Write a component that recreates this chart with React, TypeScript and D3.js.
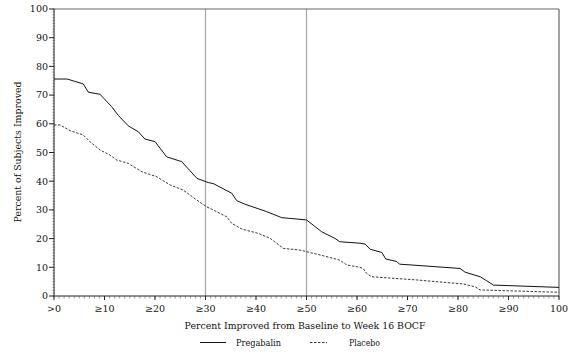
import React from "react";
import * as d3 from "d3";

const xTickValues = [0, 10, 20, 30, 40, 50, 60, 70, 80, 90, 100];
const xTickLabels = [">0", "≥10", "≥20", "≥30", "≥40", "≥50", "≥60", "≥70", "≥80", "≥90", "100"];
const yTickValues = [0, 10, 20, 30, 40, 50, 60, 70, 80, 90, 100];
const referenceLines = [30, 50];

const pregabalin: [number, number][] = [
  [0, 75.6], [2.6, 75.6], [5.8, 73.9], [6.8, 71], [9.1, 70.3], [11.4, 66], [12.7, 63],
  [14.7, 59.3], [16.7, 57.2], [18, 54.7], [20, 53.8], [22.3, 48.5], [25.3, 46.8],
  [28.3, 41], [30.6, 39.5], [31.5, 39.2], [35.2, 35.8], [36.2, 33.2], [37.8, 32],
  [42.1, 29.4], [45.1, 27.3], [50, 26.5], [53, 22.4], [55.6, 20.1], [56.6, 18.9],
  [60.6, 18.4], [61.6, 18.1], [62.6, 16.3], [64.9, 15.2], [65.7, 12.9], [67.9, 12],
  [68.4, 11.1], [80.4, 9.6], [81.4, 8.3], [84.4, 6.7], [85.7, 5.3], [87, 3.8], [100, 3.0],
];

const placebo: [number, number][] = [
  [0, 59.6], [1.2, 59.6], [3.2, 57.6], [5.8, 56.1], [7.1, 53.8], [9.1, 50.9], [11.1, 49.1],
  [12.4, 47.4], [14.7, 46.2], [17.4, 43.3], [20.3, 41.6], [23, 38.7], [25.6, 36.9],
  [28.3, 33.4], [30.2, 31.1], [31.5, 30], [34.2, 27.6], [35.2, 25.3], [37.2, 23.3],
  [40.5, 21.8], [42.8, 20.1], [45.4, 16.6], [48.7, 16], [52.7, 14.3], [56.6, 12.5],
  [58, 10.8], [60.6, 10], [61.2, 9.6], [61.9, 7.9], [62.9, 6.7], [71.8, 5.6], [81, 4.2],
  [83.4, 3.2], [84.4, 2.1], [100, 1.3],
];

const W = 586;
const H = 359;
const L = 54, R = 559, T = 9, B = 296;
const FONT = "'DejaVu Serif', serif";

export default function App() {
  const x = d3.scaleLinear().domain([0, 100]).range([L, R]);
  const y = d3.scaleLinear().domain([0, 100]).range([B, T]);
  const line = d3.line<[number, number]>().x((d) => x(d[0])).y((d) => y(d[1]));
  const minor = d3.range(0, 101, 1);

  return (
    <svg width={W} height={H} style={{ position: "absolute", left: 0, top: 0, background: "#fff" }}>
      {referenceLines.map((v) => (
        <line key={v} x1={x(v)} x2={x(v)} y1={T} y2={B} stroke="#aaa" strokeWidth={1.3} />
      ))}
      <line x1={L} x2={R} y1={T} y2={T} stroke="#666" strokeWidth={1.2} />
      <line x1={R} x2={R} y1={T} y2={B} stroke="#666" strokeWidth={1.2} />
      <line x1={L} x2={L} y1={T} y2={B} stroke="#222" strokeWidth={1} />
      <line x1={L} x2={R} y1={B} y2={B} stroke="#222" strokeWidth={1} />
      {minor.map((v) => (
        <line key={"ym" + v} x1={L - 1.5} x2={L + 1} y1={y(v)} y2={y(v)} stroke="#555" strokeWidth={0.6} />
      ))}
      {yTickValues.map((v) => (
        <g key={"y" + v}>
          <line x1={L - 5} x2={L} y1={y(v)} y2={y(v)} stroke="#222" strokeWidth={1} />
          <text x={L - 6} y={y(v) + 3.3} textAnchor="end" fontSize={9.5} fontFamily={FONT} fill="#111">
            {v}
          </text>
        </g>
      ))}
      {minor.map((v) => (
        <line key={"xm" + v} x1={x(v)} x2={x(v)} y1={B} y2={B + 2.5} stroke="#555" strokeWidth={0.6} />
      ))}
      {xTickValues.map((v, i) => (
        <g key={"x" + v}>
          <line x1={x(v)} x2={x(v)} y1={B} y2={B + 4} stroke="#222" strokeWidth={1} />
          <text x={x(v)} y={B + 16} textAnchor="middle" fontSize={9.5} fontFamily={FONT} fill="#111">
            {xTickLabels[i]}
          </text>
        </g>
      ))}
      <path d={line(pregabalin) ?? ""} fill="none" stroke="#111" strokeWidth={1} />
      <path d={line(placebo) ?? ""} fill="none" stroke="#222" strokeWidth={0.9} strokeDasharray="2.5,1.5" />
      <text x={305} y={329} textAnchor="middle" fontSize={9.5} fontFamily={FONT} fill="#111"
        textLength={241} lengthAdjust="spacingAndGlyphs">
        Percent Improved from Baseline to Week 16 BOCF
      </text>
      <text transform="translate(21,152) rotate(-90)" textAnchor="middle" fontSize={9.5} fontFamily={FONT}
        fill="#111" textLength={141} lengthAdjust="spacingAndGlyphs">
        Percent of Subjects Improved
      </text>
      <line x1={200} x2={226} y1={342.5} y2={342.5} stroke="#111" strokeWidth={1} />
      <text x={236} y={346} fontSize={8.5} fontFamily={FONT} fill="#111" textLength={45} lengthAdjust="spacingAndGlyphs">
        Pregabalin
      </text>
      <line x1={310} x2={327} y1={342.5} y2={342.5} stroke="#222" strokeWidth={0.9} strokeDasharray="2.5,1.5" />
      <text x={349} y={346} fontSize={8.5} fontFamily={FONT} fill="#111" textLength={31} lengthAdjust="spacingAndGlyphs">
        Placebo
      </text>
    </svg>
  );
}
